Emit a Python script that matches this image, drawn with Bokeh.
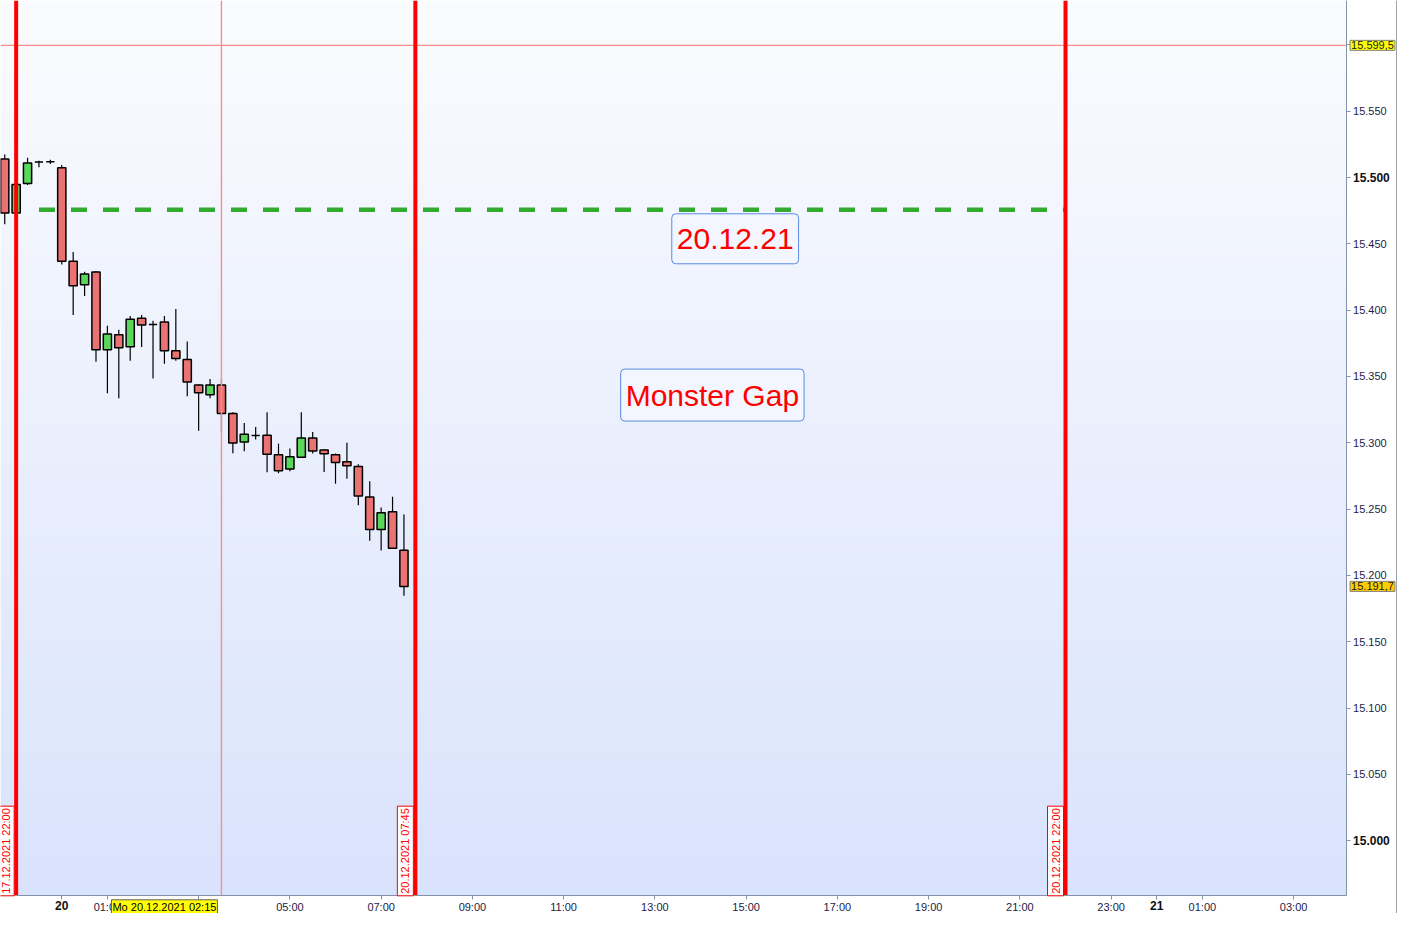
import numpy as np
from bokeh.plotting import figure
from bokeh.models import Label, FixedTicker, ColumnDataSource
from bokeh.embed import file_html
from bokeh.resources import INLINE

# ---------------- data ----------------
# bar positions in hours relative to Mo 20.12.2021 00:00 (15-minute bars, weekend compressed)
bar_hours = [-1.25, -1.0, -0.75, -0.5, -0.25, 0.0, 0.25, 0.5, 0.75, 1.0, 1.25, 1.5, 1.75,
             2.0, 2.25, 2.5, 2.75, 3.0, 3.25, 3.5, 3.75, 4.0, 4.25, 4.5, 4.75, 5.0, 5.25,
             5.5, 5.75, 6.0, 6.25, 6.5, 6.75, 7.0, 7.25, 7.5]
opens = [15513.9, 15473.1, 15495.3, 15511.6, 15511.8, 15507.2, 15436.8, 15419.0, 15428.7,
         15370.1, 15381.3, 15372.4, 15393.9, 15389.1, 15390.9, 15369.4, 15362.7, 15343.5,
         15336.1, 15343.5, 15322.0, 15300.5, 15305.4, 15305.7, 15290.9, 15280.2, 15289.1,
         15303.5, 15294.6, 15290.9, 15285.7, 15282.0, 15259.0, 15234.6, 15247.9, 15219.0]
highs = [15517.3, 15496.0, 15514.8, 15512.5, 15513.3, 15509.4, 15443.7, 15428.9, 15429.5,
         15388.1, 15385.2, 15395.6, 15396.3, 15391.9, 15395.6, 15400.7, 15376.3, 15344.0,
         15348.1, 15348.1, 15323.0, 15314.8, 15311.9, 15323.0, 15299.3, 15295.6, 15323.0,
         15308.1, 15295.0, 15291.9, 15300.0, 15283.7, 15270.9, 15251.1, 15259.3, 15245.9]
lows = [15464.7, 15472.0, 15494.3, 15507.6, 15510.0, 15434.3, 15396.3, 15410.6, 15361.0,
        15337.3, 15333.6, 15361.7, 15372.1, 15348.4, 15359.5, 15361.7, 15335.0, 15309.1,
        15333.6, 15308.4, 15292.1, 15293.6, 15302.4, 15277.8, 15277.0, 15278.5, 15288.4,
        15291.9, 15278.0, 15269.1, 15272.8, 15252.8, 15226.1, 15218.7, 15220.0, 15184.7]
closes = [15473.1, 15494.6, 15510.9, 15511.6, 15511.8, 15436.8, 15418.3, 15427.2, 15370.1,
          15382.0, 15371.6, 15393.1, 15388.7, 15389.1, 15369.4, 15363.5, 15345.7, 15337.6,
          15343.5, 15322.0, 15299.8, 15306.4, 15305.4, 15291.3, 15278.8, 15289.4, 15303.5,
          15293.8, 15291.6, 15285.0, 15282.7, 15259.8, 15234.6, 15247.2, 15220.5, 15191.7]

# vertical session markers (hours) and their labels
marker_hours = [-1.0, 7.75, 22.0]
marker_labels = ["17.12.2021 22:00", "20.12.2021 07:45", "20.12.2021 22:00"]

# gap level (green dashed line)
gap_level = 15475.6
gap_start, gap_end = -0.5, 22.0

# crosshair
cross_hour = 3.5
cross_price = 15599.5
cross_price_label = "15.599,5"
cross_time_hour = 2.25
cross_time_label = "Mo 20.12.2021 02:15"
last_price = 15191.7
last_price_label = "15.191,7"

# text notes
note_hours = [14.76, 14.26]
note_prices = [15453.7, 15335.9]
note_texts = ["20.12.21", "Monster Gap"]

# axis ticks
x_ticks = [0, 1, 3, 5, 7, 9, 11, 13, 15, 17, 19, 21, 23, 24, 25, 27]
x_tick_labels = ["20", "01:00", "03:00", "05:00", "07:00", "09:00", "11:00", "13:00", "15:00",
                 "17:00", "19:00", "21:00", "23:00", "21", "01:00", "03:00"]
x_bold = ["20", "21"]
y_ticks = [15000, 15050, 15100, 15150, 15200, 15250, 15300, 15350, 15400, 15450, 15500, 15550, 15600]
y_tick_labels = ["15.000", "15.050", "15.100", "15.150", "15.200", "15.250", "15.300", "15.350",
                 "15.400", "15.450", "15.500", "15.550", ""]
y_bold = ["15.000", "15.500"]

# plot region (data) and the canvas extent including the axis strips
X0, X1 = -1.343, 28.15
Y0, Y1 = 14958.5, 15633.3
XR = X0 + (X1 - X0) * 1413.0 / 1361.0
YB = Y1 - (Y1 - Y0) * 929.0 / 911.0

FONT = "Liberation Sans"

p = figure(width=1397, height=913, x_range=(X0, XR), y_range=(YB, Y1),
           y_axis_location="right", output_backend="svg", toolbar_location=None,
           min_border_left=0, min_border_top=0, min_border_right=0, min_border_bottom=0)
p.grid.visible = False
p.outline_line_color = None
p.border_fill_color = "white"
p.background_fill_color = "white"

# background gradient of the plot region
n = 256
img = np.empty((n, 2), dtype=np.uint32)
view = img.view(dtype=np.uint8).reshape((n, 2, 4))
top = np.array([251, 252, 255])
bot = np.array([217, 227, 252])
for i in range(n):
    t = i / (n - 1)
    c = bot + (top - bot) * t
    view[i, :, 0] = int(c[0]); view[i, :, 1] = int(c[1]); view[i, :, 2] = int(c[2]); view[i, :, 3] = 255
p.image_rgba(image=[img], x=X0, y=Y0, dw=X1 - X0, dh=Y1 - Y0)

# window edge line on the far right
p.segment(x0=[XR], y0=[YB], x1=[XR], y1=[Y1], line_color="#3e4a58", line_width=2)

# candles
o = np.array(opens); c = np.array(closes)
up = c >= o
src = ColumnDataSource(dict(x=bar_hours, h=highs, l=lows,
                            top=np.maximum(o, c), bottom=np.minimum(o, c),
                            color=np.where(up, "#5ad65a", "#eb7272")))
p.segment(x0="x", y0="h", x1="x", y1="l", source=src, line_color="black", line_width=1.2)
p.vbar(x="x", top="top", bottom="bottom", width=0.18, source=src,
       fill_color="color", line_color="black", line_width=1.5)

# green dashed gap line
p.line([gap_start, gap_end], [gap_level, gap_level], line_color="#33aa33", line_width=4.5,
       line_dash="16 16")

# crosshair
p.segment(x0=[X0], y0=[cross_price], x1=[X1], y1=[cross_price], line_color="#ff8a8a", line_width=1.4)
p.segment(x0=[cross_hour], y0=[Y0], x1=[cross_hour], y1=[Y1], line_color="#ff8a8a", line_width=1.4)

# red session lines
p.segment(x0=marker_hours, y0=[Y0] * len(marker_hours), x1=marker_hours, y1=[Y1] * len(marker_hours),
          line_color="#ff0000", line_width=4)
for h, t in zip(marker_hours, marker_labels):
    p.add_layout(Label(x=h, y=Y0, x_offset=-2, y_offset=0, angle=np.pi / 2, text=t,
                       text_align="left", text_baseline="bottom", text_font=FONT,
                       text_font_size="11px", text_color="#ff0000",
                       background_fill_color="white", border_line_color="#ff0000",
                       padding=2))

# note boxes
note_pads = [dict(left=5, right=5, top=15, bottom=15), dict(left=5, right=5, top=10, bottom=9)]
for h, pr, t, pad in zip(note_hours, note_prices, note_texts, note_pads):
    p.add_layout(Label(x=h, y=pr, text=t, text_align="center", text_baseline="middle",
                       text_font=FONT, text_font_size="30px", text_color="#ff0000",
                       background_fill_color="#f3f6fe", border_line_color="#5b8be6",
                       border_line_width=1, border_radius=4, padding=pad))

# axes drawn at the edges of the plot region
ax_color = "#8494a8"
lab_color = "#1c1c48"
xa = p.xaxis[0]
ya = p.yaxis[0]
xa.fixed_location = Y0
ya.fixed_location = X1
xa.bounds = (X0, X1)
ya.bounds = (Y0, Y1)
for ax in (xa, ya):
    ax.axis_line_color = ax_color
    ax.major_tick_line_color = ax_color
    ax.minor_tick_line_color = None
    ax.major_tick_out = 4
    ax.major_tick_in = 0
    ax.major_label_text_font = FONT
    ax.major_label_text_font_size = "11px"
    ax.major_label_text_color = lab_color
xa.major_label_standoff = 1
ya.major_label_standoff = 3

xa.ticker = FixedTicker(ticks=x_ticks)
xa.major_label_overrides = {k: ("" if v in x_bold else v) for k, v in zip(x_ticks, x_tick_labels)}
ya.ticker = FixedTicker(ticks=y_ticks)
ya.major_label_overrides = {k: ("" if v in y_bold else v) for k, v in zip(y_ticks, y_tick_labels)}

for k, v in zip(x_ticks, x_tick_labels):
    if v in x_bold:
        p.add_layout(Label(x=k, y=Y0, y_offset=-5, text=v, text_align="center", text_baseline="top",
                           text_font=FONT, text_font_size="12px", text_font_style="bold",
                           text_color="#101010"))
for k, v in zip(y_ticks, y_tick_labels):
    if v in y_bold:
        p.add_layout(Label(x=X1, x_offset=7, y=k, text=v, text_align="left", text_baseline="middle",
                           text_font=FONT, text_font_size="12px", text_font_style="bold",
                           text_color="#101010"))

# price / time tags
p.add_layout(Label(x=X1, x_offset=4, y=cross_price, text=cross_price_label, text_align="left",
                   text_baseline="middle", text_font=FONT, text_font_size="11px", text_color="#202020",
                   background_fill_color="#ffff00", border_line_color="#808080", padding=1))
p.add_layout(Label(x=X1, x_offset=4, y=last_price, text=last_price_label, text_align="left",
                   text_baseline="middle", text_font=FONT, text_font_size="11px", text_color="#202020",
                   background_fill_color="#ffcc00", border_line_color="#808080", padding=1))
p.add_layout(Label(x=cross_time_hour, y=Y0, y_offset=-4, text=cross_time_label, text_align="center",
                   text_baseline="top", text_font=FONT, text_font_size="11px", text_color="#000000",
                   background_fill_color="#ffff00", border_line_color="#606060", padding=1))

open("out.html", "w").write(file_html(p, INLINE))
